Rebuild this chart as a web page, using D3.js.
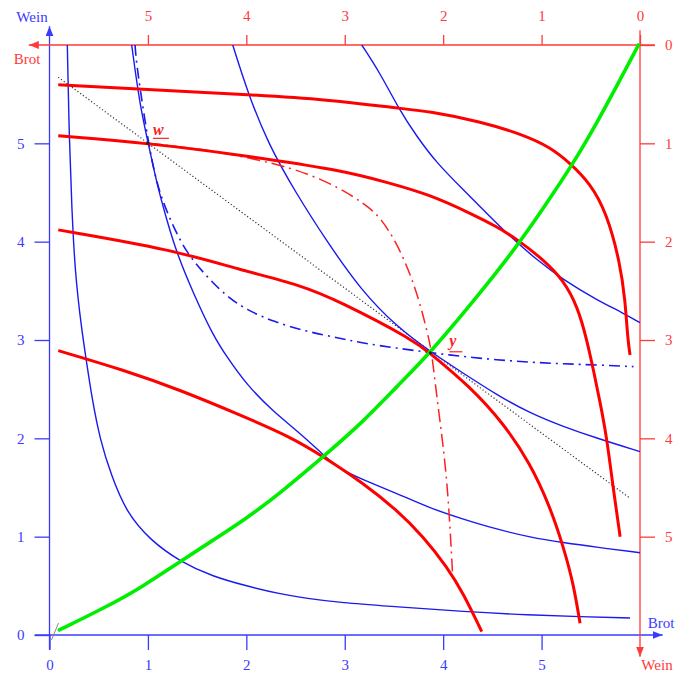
<!DOCTYPE html>
<html>
<head>
<meta charset="utf-8">
<script src="https://cdn.jsdelivr.net/npm/d3@7"></script>
<style>
  html, body { margin: 0; padding: 0; background: #fff; }
  svg { display: block; }
  text { font-family: "Liberation Serif", "DejaVu Serif", serif; }
</style>
</head>
<body>
<script>
// Edgeworth box: 6 units of Brot and 6 units of Wein.
// Household A is measured from the lower-left corner (blue),
// household B from the upper-right corner (red).

const boxSize = 6;
const tickValues = [0, 1, 2, 3, 4, 5];

// Indifference curves of A (box coordinates: Brot, Wein)
const blueCurve1 = [[0.181,6.0],[0.201,5.035],[0.226,4.357],[0.259,3.683],[0.327,3.103],[0.378,2.767],[0.429,2.424],[0.513,1.984],[0.632,1.610],[0.785,1.241],[1.022,0.966],[1.326,0.746],[1.662,0.593],[2.004,0.498],[2.342,0.417],[2.614,0.373],[2.952,0.329],[3.528,0.288],[4.205,0.237],[4.883,0.203],[5.391,0.186],[5.899,0.173]];
const blueCurve2 = [[0.835,6.0],[0.920,5.374],[1.004,5.002],[1.089,4.595],[1.191,4.222],[1.293,3.883],[1.461,3.476],[1.665,3.040],[1.801,2.831],[2.004,2.543],[2.274,2.272],[2.546,2.052],[2.783,1.831],[2.952,1.686],[3.189,1.577],[3.528,1.441],[3.867,1.289],[4.205,1.177],[4.545,1.075],[4.883,0.994],[5.221,0.939],[5.561,0.892],[6.0,0.837]];
const blueCurve3 = [[1.862,6.0],[2.020,5.500],[2.220,5.000],[2.500,4.500],[2.820,4.000],[3.170,3.500],[3.528,3.136],[3.867,2.882],[4.205,2.662],[4.545,2.442],[4.883,2.255],[5.221,2.119],[5.561,2.001],[6.0,1.865]];
const blueCurve4 = [[3.173,6.0],[3.359,5.714],[3.545,5.358],[3.732,5.069],[3.935,4.799],[4.205,4.527],[4.476,4.255],[4.680,4.052],[4.951,3.815],[5.221,3.611],[5.561,3.408],[5.831,3.273],[6.0,3.177]];

// Offer curve of A
const blueOffer = [[0.869,6.0],[0.886,5.779],[1.004,5.002],[1.082,4.629],[1.157,4.392],[1.258,4.154],[1.394,3.883],[1.598,3.645],[1.801,3.442],[2.004,3.306],[2.274,3.187],[2.614,3.085],[2.952,3.018],[3.189,2.967],[3.528,2.917],[3.867,2.872],[4.205,2.831],[4.545,2.798],[4.883,2.774],[5.221,2.757],[5.561,2.747],[5.934,2.729]];

// Indifference curves of B (box coordinates)
const redCurve1 = [[0.089,5.595],[0.920,5.551],[1.936,5.501],[2.851,5.443],[3.528,5.358],[3.867,5.324],[4.375,5.222],[4.815,5.087],[5.086,4.961],[5.290,4.799],[5.493,4.595],[5.663,4.290],[5.798,3.781],[5.849,3.408],[5.876,3.001],[5.899,2.848]];
const redCurve2 = [[0.089,5.076],[1.004,5.002],[1.936,4.883],[2.952,4.730],[3.460,4.595],[3.867,4.476],[4.273,4.290],[4.545,4.154],[4.784,4.001],[5.018,3.815],[5.221,3.611],[5.370,3.330],[5.460,3.000],[5.530,2.680],[5.600,2.340],[5.663,2.000],[5.720,1.550],[5.798,1.000]];
const redCurve3 = [[0.089,4.120],[1.258,3.917],[1.936,3.713],[2.546,3.561],[2.952,3.391],[3.697,3.001],[3.867,2.866],[4.273,2.526],[4.612,2.154],[4.883,1.747],[5.086,1.305],[5.221,0.898],[5.323,0.526],[5.391,0.119]];
const redCurve4 = [[0.089,2.892],[0.750,2.696],[1.326,2.492],[1.936,2.238],[2.444,2.017],[2.783,1.814],[3.189,1.543],[3.528,1.272],[3.799,1.000],[4.037,0.695],[4.205,0.424],[4.392,0.034]];

// Offer curve of B
const redOffer = [[1.004,5.002],[1.428,4.954],[1.801,4.900],[2.274,4.798],[2.614,4.697],[2.952,4.544],[3.189,4.392],[3.359,4.255],[3.528,3.985],[3.663,3.680],[3.765,3.374],[3.850,3.035],[3.884,2.872],[3.935,2.424],[4.002,1.916],[4.053,1.407],[4.098,0.577]];

// Contract curve
const contractCurve = [[0.100,0.051],[0.581,0.288],[0.920,0.475],[1.326,0.746],[1.665,0.966],[2.004,1.187],[2.342,1.442],[2.783,1.814],[3.189,2.170],[3.528,2.526],[3.867,2.866],[4.375,3.476],[4.748,3.950],[5.053,4.392],[5.323,4.799],[5.561,5.206],[5.798,5.646],[5.984,6.0]];

// Budget line through the endowment w and the equilibrium y
const budgetLine = [[0.089,5.673],[5.899,1.391]];

// Labelled points
const pointW = [1.0, 5.0];
const pointY = [3.87, 2.87];

const W = 679, H = 673;
const blue = "#3a3aff", red = "#ff3a3a";

const svg = d3.select("body").append("svg").attr("width", W).attr("height", H);

// A's scales (lower-left origin) and B's scales (upper-right origin)
const x = d3.scaleLinear().domain([0, boxSize]).range([49.5, 640]);
const y = d3.scaleLinear().domain([0, boxSize]).range([635, 45]);
const xB = d3.scaleLinear().domain([0, boxSize]).range([640, 49.5]);
const yB = d3.scaleLinear().domain([0, boxSize]).range([45, 635]);

// Arrow markers
const defs = svg.append("defs");
function marker(id, color) {
  defs.append("marker")
    .attr("id", id).attr("viewBox", "0 0 10 8")
    .attr("refX", 10).attr("refY", 4)
    .attr("markerWidth", 10).attr("markerHeight", 8)
    .attr("markerUnits", "userSpaceOnUse")
    .attr("orient", "auto")
    .append("path").attr("d", "M0,0 L10,4 L0,8 Z").attr("fill", color);
}
marker("arrBlue", blue);
marker("arrRed", red);

// Axis lines with arrows
const axisLines = svg.append("g");
axisLines.append("line")
  .attr("x1", x(-0.15)).attr("y1", y(0)).attr("x2", x(6.23)).attr("y2", y(0))
  .attr("stroke", blue).attr("stroke-width", 1.3).attr("marker-end", "url(#arrBlue)");
axisLines.append("line")
  .attr("x1", x(0)).attr("y1", y(-0.15)).attr("x2", x(0)).attr("y2", y(6.19))
  .attr("stroke", blue).attr("stroke-width", 1.3).attr("marker-end", "url(#arrBlue)");
axisLines.append("line")
  .attr("x1", xB(-0.15)).attr("y1", yB(0)).attr("x2", xB(6.21)).attr("y2", yB(0))
  .attr("stroke", red).attr("stroke-width", 1.3).attr("marker-end", "url(#arrRed)");
axisLines.append("line")
  .attr("x1", xB(0)).attr("y1", yB(-0.15)).attr("x2", xB(0)).attr("y2", yB(6.22))
  .attr("stroke", red).attr("stroke-width", 1.3).attr("marker-end", "url(#arrRed)");

function styleAxis(g, color) {
  g.select(".domain").remove();
  g.selectAll(".tick line").attr("stroke", color).attr("stroke-width", 1.3);
  g.selectAll(".tick text").attr("fill", color)
    .style("font-family", '"Liberation Serif", "DejaVu Serif", serif')
    .style("font-size", "15px");
}

svg.append("g").attr("transform", `translate(0,${y(0)})`)
  .call(d3.axisBottom(x).tickValues(tickValues).tickSize(15).tickPadding(9).tickFormat(d3.format("d")))
  .call(g => styleAxis(g, blue));
svg.append("g").attr("transform", `translate(${x(0)},0)`)
  .call(d3.axisLeft(y).tickValues(tickValues).tickSize(15).tickPadding(10).tickFormat(d3.format("d")))
  .call(g => styleAxis(g, blue));
svg.append("g").attr("transform", `translate(0,${yB(0)})`)
  .call(d3.axisTop(xB).tickValues(tickValues).tickSize(10).tickPadding(14).tickFormat(d3.format("d")))
  .call(g => styleAxis(g, red));
svg.append("g").attr("transform", `translate(${xB(0)},0)`)
  .call(d3.axisRight(yB).tickValues(tickValues).tickSize(15).tickPadding(10).tickFormat(d3.format("d")))
  .call(g => styleAxis(g, red));

// Axis titles
const titles = [
  { t: "Wein", x: 32, y: 22, c: blue },
  { t: "Brot", x: 27, y: 64, c: red },
  { t: "Brot", x: 661, y: 628, c: blue },
  { t: "Wein", x: 657, y: 670, c: red }
];
svg.append("g").selectAll("text").data(titles).join("text")
  .attr("x", d => d.x).attr("y", d => d.y)
  .attr("text-anchor", "middle").attr("fill", d => d.c)
  .style("font-size", "15px").text(d => d.t);

// small mark at the origin
svg.append("line")
  .attr("x1", x(0) + 2).attr("y1", y(0) + 5).attr("x2", x(0) + 9).attr("y2", y(0) - 12)
  .attr("stroke", "#888").attr("stroke-width", 1);

const line = d3.line().x(d => x(d[0])).y(d => y(d[1])).curve(d3.curveBasis);
const plot = svg.append("g");

// Budget line (dotted)
plot.append("path").datum(budgetLine).attr("d", d3.line().x(d => x(d[0])).y(d => y(d[1])))
  .attr("fill", "none").attr("stroke", "#333").attr("stroke-width", 1.2)
  .attr("stroke-dasharray", "1.2,2.2");

// Blue indifference curves
[blueCurve1, blueCurve2, blueCurve3, blueCurve4].forEach(c => {
  plot.append("path").datum(c).attr("d", line)
    .attr("fill", "none").attr("stroke", "#1a1aee").attr("stroke-width", 1.4);
});

// Offer curves (dash-dot)
plot.append("path").datum(blueOffer).attr("d", line)
  .attr("fill", "none").attr("stroke", "#1a1aee").attr("stroke-width", 1.6)
  .attr("stroke-dasharray", "11,5,2,5");
plot.append("path").datum(redOffer).attr("d", line)
  .attr("fill", "none").attr("stroke", "#ff2020").attr("stroke-width", 1.5)
  .attr("stroke-dasharray", "13,5,2,5");

// Red indifference curves
[redCurve1, redCurve2, redCurve3, redCurve4].forEach(c => {
  plot.append("path").datum(c).attr("d", line)
    .attr("fill", "none").attr("stroke", "#ff0000").attr("stroke-width", 3);
});

// Contract curve
plot.append("path").datum(contractCurve).attr("d", line)
  .attr("fill", "none").attr("stroke", "#00ee00").attr("stroke-width", 3.6)
  .attr("stroke-linecap", "round");

// Point labels (underlined vectors)
const pts = [
  { name: "w", p: pointW, dx: 5, dy: -8, w: 16 },
  { name: "y", p: pointY, dx: 19, dy: -7, w: 13 }
];
const lab = plot.selectAll("g.pt").data(pts).join("g").attr("class", "pt");
lab.append("circle").attr("cx", d => x(d.p[0])).attr("cy", d => y(d.p[1])).attr("r", 1.6).attr("fill", "#222");
lab.append("text")
  .attr("x", d => x(d.p[0]) + d.dx).attr("y", d => y(d.p[1]) + d.dy)
  .attr("fill", "#ff2020").style("font-size", "16px")
  .style("font-weight", "bold").style("font-style", "italic")
  .text(d => d.name);
lab.append("line")
  .attr("x1", d => x(d.p[0]) + d.dx).attr("x2", d => x(d.p[0]) + d.dx + d.w)
  .attr("y1", d => y(d.p[1]) + d.dy + (d.name === "y" ? 6 : 3))
  .attr("y2", d => y(d.p[1]) + d.dy + (d.name === "y" ? 6 : 3))
  .attr("stroke", "#ff2020").attr("stroke-width", 1.2);
</script>
</body>
</html>
